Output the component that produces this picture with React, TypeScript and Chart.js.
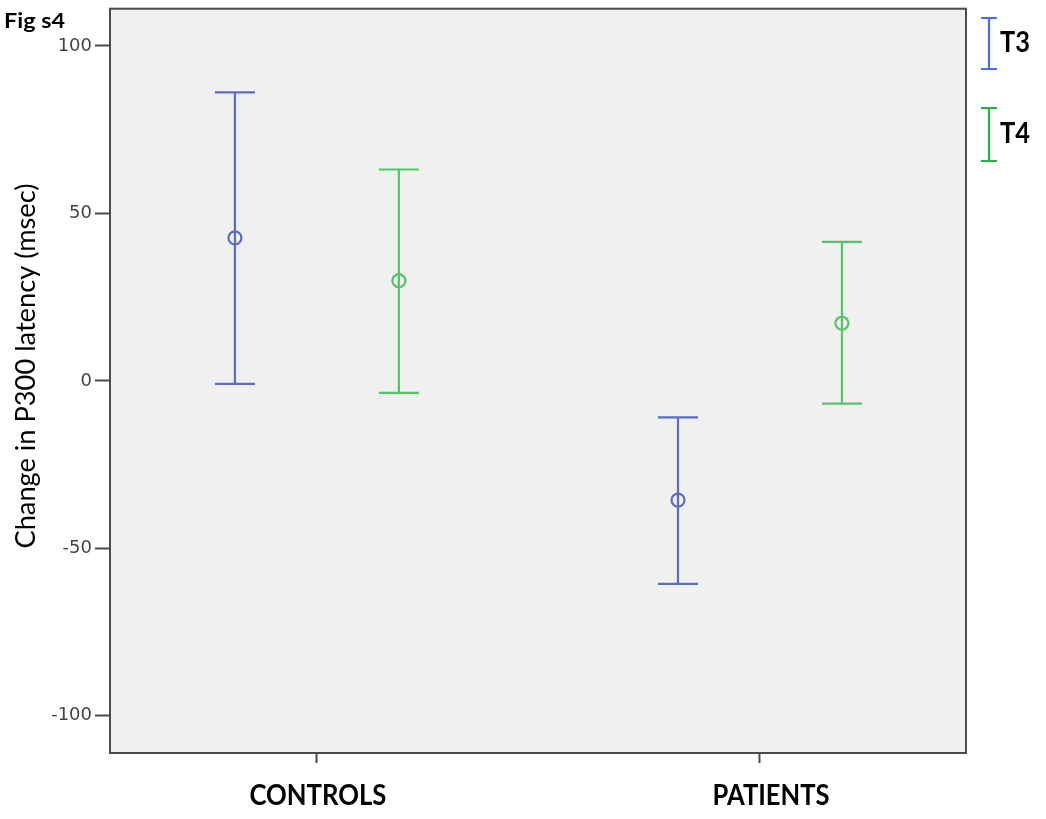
import React, { useEffect, useRef } from "react";
import { Chart, registerables } from "chart.js";

Chart.register(...registerables);

const categories = ["CONTROLS", "PATIENTS"];
const seriesNames = ["T3", "T4"];
const t3Mean = [42.7, -35.6];
const t3Upper = [86.1, -10.9];
const t3Lower = [-0.9, -60.6];
const t4Mean = [29.9, 17.2];
const t4Upper = [63.1, 41.5];
const t4Lower = [-3.6, -6.8];
const yTicks = [-100, -50, 0, 50, 100];

const lineColors = ["#5a6dbf", "#55c467"];
const legendColors = ["#4a6cf0", "#27b046"];
const groupOffset = 0.185;

function drawFit(
  ctx: CanvasRenderingContext2D,
  text: string,
  x: number,
  y: number,
  targetW: number,
  font: string,
  color: string,
  align: "left" | "center",
  rotate = 0
) {
  ctx.save();
  ctx.font = font;
  ctx.fillStyle = color;
  ctx.textBaseline = "alphabetic";
  const w = ctx.measureText(text).width;
  const sx = targetW / w;
  ctx.translate(x, y);
  if (rotate) ctx.rotate(rotate);
  ctx.scale(sx, 1);
  ctx.textAlign = align;
  ctx.fillText(text, 0, 0);
  ctx.restore();
}

const customPlugin = {
  id: "custom",
  beforeDraw(chart: any) {
    const { ctx, chartArea: a } = chart;
    ctx.save();
    ctx.fillStyle = "#ffffff";
    ctx.fillRect(0, 0, chart.width, chart.height);
    ctx.fillStyle = "#f0f0f0";
    ctx.fillRect(a.left, a.top, a.right - a.left, a.bottom - a.top);
    ctx.restore();
  },
  beforeDatasetsDraw(chart: any) {
    const { ctx } = chart;
    const xs = chart.scales.x;
    const ys = chart.scales.y;
    const uppers = [t3Upper, t4Upper];
    const lowers = [t3Lower, t4Lower];
    ctx.save();
    ctx.lineWidth = 2.2;
    for (let s = 0; s < 2; s++) {
      ctx.strokeStyle = lineColors[s];
      for (let i = 0; i < categories.length; i++) {
        const off = s === 0 ? -groupOffset : groupOffset;
        const px = xs.getPixelForValue(i + off);
        const pu = ys.getPixelForValue(uppers[s][i]);
        const pl = ys.getPixelForValue(lowers[s][i]);
        ctx.beginPath();
        ctx.moveTo(px, pu);
        ctx.lineTo(px, pl);
        ctx.moveTo(px - 20, pu);
        ctx.lineTo(px + 20, pu);
        ctx.moveTo(px - 20, pl);
        ctx.lineTo(px + 20, pl);
        ctx.stroke();
      }
    }
    ctx.restore();
  },
  afterDraw(chart: any) {
    const { ctx, chartArea: a } = chart;
    const xs = chart.scales.x;
    ctx.save();
    ctx.strokeStyle = "#4a4a4a";
    ctx.lineWidth = 2;
    ctx.strokeRect(a.left, a.top, a.right - a.left, a.bottom - a.top);
    ctx.restore();

    drawFit(ctx, "Fig s4", 4, 28, 61, "bold 21px Lato", "#000", "left");
    drawFit(
      ctx,
      "Change in P300 latency (msec)",
      35,
      366,
      365,
      "27px Lato",
      "#000",
      "center",
      -Math.PI / 2
    );
    const labelW = [137, 117];
    const labelShift = [1, 11];
    categories.forEach((c, i) => {
      drawFit(
        ctx,
        c,
        xs.getPixelForValue(i) + labelShift[i],
        805,
        labelW[i],
        "bold 28px Lato",
        "#000",
        "center"
      );
    });

    // legend
    const legTops = [18, 108];
    const legBottoms = [69, 161];
    const legText = [52, 143];
    seriesNames.forEach((n, s) => {
      ctx.save();
      ctx.strokeStyle = legendColors[s];
      ctx.lineWidth = 2.2;
      ctx.beginPath();
      ctx.moveTo(989, legTops[s]);
      ctx.lineTo(989, legBottoms[s]);
      ctx.moveTo(981, legTops[s]);
      ctx.lineTo(997, legTops[s]);
      ctx.moveTo(981, legBottoms[s]);
      ctx.lineTo(997, legBottoms[s]);
      ctx.stroke();
      ctx.restore();
      drawFit(ctx, n, 1000, legText[s], 30, "bold 28px Lato", "#000", "left");
    });
  },
};

export default function App() {
  const ref = useRef<HTMLCanvasElement | null>(null);
  useEffect(() => {
    document.body.style.margin = "0";
    const canvas = ref.current;
    if (!canvas) return;
    const mk = (mean: number[], off: number) =>
      mean.map((v, i) => ({ x: i + off, y: v }));
    const chart = new Chart(canvas, {
      type: "scatter",
      data: {
        datasets: [
          {
            label: seriesNames[0],
            data: mk(t3Mean, -groupOffset),
            pointStyle: "circle",
            pointRadius: 6.5,
            pointBorderWidth: 2.2,
            pointBorderColor: lineColors[0],
            pointBackgroundColor: "rgba(0,0,0,0)",
          },
          {
            label: seriesNames[1],
            data: mk(t4Mean, groupOffset),
            pointStyle: "circle",
            pointRadius: 6.5,
            pointBorderWidth: 2.2,
            pointBorderColor: lineColors[1],
            pointBackgroundColor: "rgba(0,0,0,0)",
          },
        ],
      },
      options: {
        responsive: false,
        animation: false,
        events: [],
        layout: { padding: { top: 6, right: 80, left: 0, bottom: 0 } },
        plugins: {
          legend: { display: false },
          tooltip: { enabled: false },
          title: { display: false },
        },
        scales: {
          x: {
            type: "linear",
            min: -0.467,
            max: 1.465,
            afterBuildTicks: (s: any) => {
              s.ticks = categories.map((_, i) => ({ value: i }));
            },
            afterFit: (s: any) => {
              s.height = 66;
              s.paddingLeft = 0;
              s.paddingRight = 0;
            },
            ticks: { display: false },
            grid: {
              drawOnChartArea: false,
              drawTicks: true,
              tickLength: 10,
              tickColor: "#4a4a4a",
              tickWidth: 2,
              color: "#4a4a4a",
            },
            border: { display: false },
          },
          y: {
            type: "linear",
            min: -111.1,
            max: 111.1,
            afterBuildTicks: (s: any) => {
              s.ticks = yTicks.map((v) => ({ value: v }));
            },
            afterFit: (s: any) => {
              s.width = 110;
              s.paddingTop = 0;
              s.paddingBottom = 0;
            },
            ticks: {
              color: "#444444",
              font: { family: "DejaVu Sans", size: 18 },
              padding: 3,
              callback: (v: any) => String(v),
            },
            grid: {
              drawOnChartArea: false,
              drawTicks: true,
              tickLength: 15,
              tickColor: "#4a4a4a",
              tickWidth: 2,
              color: "#4a4a4a",
            },
            border: { display: false },
          },
        },
      },
      plugins: [customPlugin],
    });
    return () => chart.destroy();
  }, []);
  return <canvas ref={ref} width={1046} height={819} style={{ display: "block" }} />;
}
